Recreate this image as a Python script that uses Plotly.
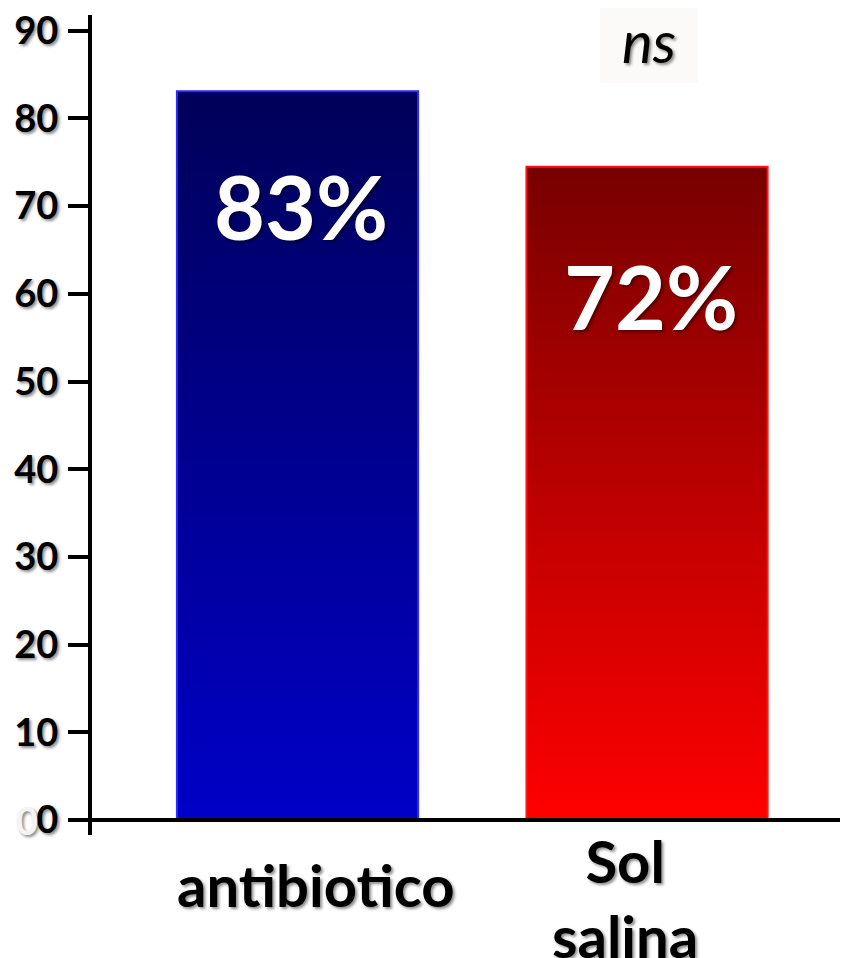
import plotly.graph_objects as go

categories = ["antibiotico", "Sol<br>salina"]
values = [83.1, 74.5]
bar_labels = ["83%", "72%"]
tick_vals = [0, 10, 20, 30, 40, 50, 60, 70, 80, 90]
tick_text = ["0", "10", "20", "30", "40", "50", "60", "70", "80", "90"]
top_colors = ["#000058", "#780000"]
bottom_colors = ["#0000c8", "#ff0000"]
edge_colors = ["#2a2aff", "#ff1515"]

FONT = "Lato"
SHADOW = "2px 2px 3px rgba(0,0,0,0.45)"
bar_w = 0.69

# plot area in page pixels: x 92..848, y 15..835
PW, PH = 756, 820
def px(xp):
    return (xp - 92) / PW
def py(yp):
    return (835 - yp) / PH

fig = go.Figure()
for i, (cat, v) in enumerate(zip(categories, values)):
    x0, x1 = i - bar_w / 2, i + bar_w / 2
    fig.add_trace(go.Scatter(
        x=[x0, x1, x1, x0, x0], y=[0, 0, v, v, 0],
        mode="lines", fill="toself",
        line=dict(color=edge_colors[i], width=2),
        fillgradient=dict(type="vertical",
                          colorscale=[[0, bottom_colors[i]], [1, top_colors[i]]]),
        hoverinfo="skip", showlegend=False,
    ))

# value labels inside bars
label_y = [70.0, 59.7]
for i, t in enumerate(bar_labels):
    fig.add_annotation(x=i + 0.01, y=label_y[i], text=f"<b>{t}</b>", showarrow=False,
                       font=dict(family=FONT, size=88, color="white", shadow=SHADOW),
                       xanchor="center", yanchor="middle")

# category labels
cat_x = [0.053, 0.937]
cat_y = [884, 898]
for i, c in enumerate(categories):
    fig.add_annotation(xref="x", yref="paper", x=cat_x[i], y=py(cat_y[i]),
                       text=f"<b>{c}</b>", showarrow=False,
                       font=dict(family=FONT, size=58, color="black", shadow=SHADOW),
                       xanchor="center", yanchor="middle", align="center")

# ns annotation
fig.add_shape(type="rect", xref="paper", yref="paper",
              x0=px(600), x1=px(698), y0=py(83), y1=py(8),
              fillcolor="#fbfaf8", line=dict(width=0), layer="below")
fig.add_annotation(xref="paper", yref="paper", x=px(649), y=py(40),
                   text="<i>ns</i>", showarrow=False,
                   font=dict(family=FONT, size=58, color="black", shadow=SHADOW),
                   xanchor="center", yanchor="middle")

# faint extra zero at the origin label
fig.add_annotation(xref="paper", yref="y", x=px(27), y=0, text="<b>0</b>",
                   showarrow=False, xanchor="center", yanchor="middle",
                   font=dict(family=FONT, size=38, color="#f4f4f4", shadow=SHADOW))

# x axis line
fig.add_shape(type="line", xref="paper", yref="y", x0=px(78), x1=1.02,
              y0=0, y1=0, line=dict(color="black", width=4))

fig.update_layout(
    width=840, height=950,
    margin=dict(l=84, r=0, t=7, b=123, autoexpand=False),
    paper_bgcolor="white", plot_bgcolor="white",
    xaxis=dict(range=[-0.588, 1.575], visible=False, fixedrange=True, automargin=False),
    yaxis=dict(range=[-1.71, 91.8], tickvals=tick_vals, ticktext=tick_text,
               automargin=False, ticklabeloverflow="allow",
               showgrid=False, zeroline=False, showline=True, linecolor="black",
               linewidth=4, ticks="outside", ticklen=20, tickwidth=4, tickcolor="black",
               ticklabelstandoff=2,
               tickfont=dict(family=FONT, size=38, color="black", weight="bold", shadow=SHADOW)),
)

fig.write_html("out.html")
